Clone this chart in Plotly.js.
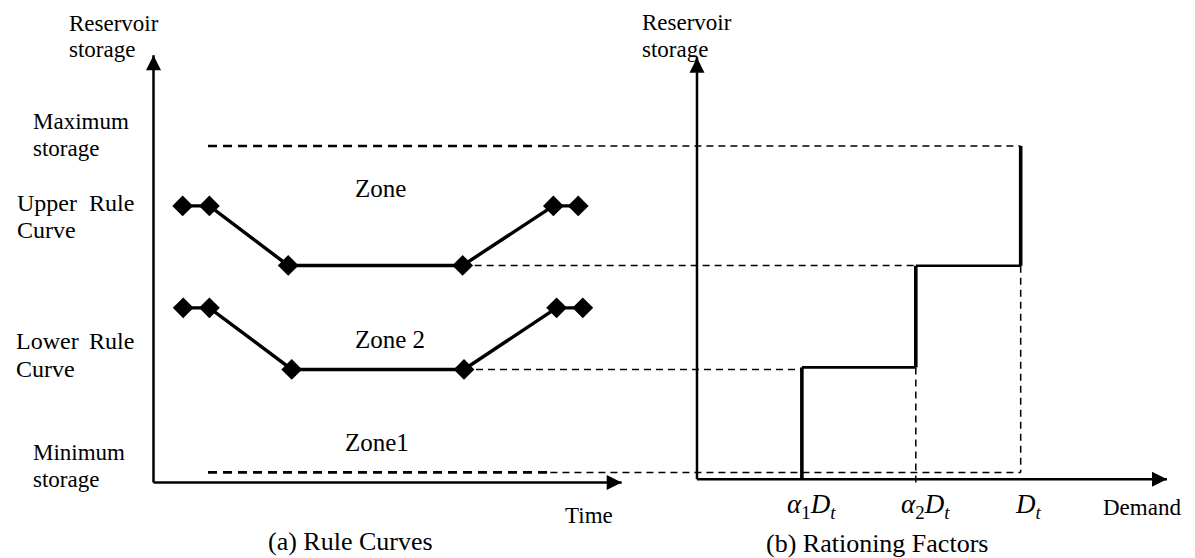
<!DOCTYPE html>
<html>
<head>
<meta charset="utf-8">
<script src="https://cdn.plot.ly/plotly-3.0.1.min.js"></script>
<style>html,body{margin:0;padding:0;background:#fff;}#chart{width:1195px;height:558px;}</style>
</head>
<body>
<div id="chart"></div>
<script>
// ---------- data ----------
// (a) Rule curves: time knots and storage levels (storage: max = 100)
const upperTime = [1.08, 2.07, 4.99, 11.45, 14.81, 15.73];
const upperRule = [82.2, 82.2, 64.5, 64.5, 82.2, 82.2];
const lowerTime = [1.10, 2.07, 5.12, 11.50, 14.93, 15.90];
const lowerRule = [51.9, 51.9, 33.6, 33.6, 51.9, 51.9];
const maxStorage = 100;
const minStorage = 3.0;
const storageLineTime = [2.02, 14.70];   // extent of max/min storage lines in panel (a)
const timeAxisEnd = 17.34;
const storageAxisEndLeft = 127.0;

// (b) Rationing factors: demand (fraction of D_t) vs storage
const rationDemand = [0.324, 0.324, 0.676, 0.676, 1.0, 1.0];
const rationStorage = [0.95, 34.2, 34.2, 64.4, 64.4, 100];
const demandAxisLevel = 0.95;
const demandAxisEnd = 1.452;
const storageAxisEndRight = 126.2;
const demandTicks = [0.324, 0.676, 1.0];
const demandTickText = ['<i>α</i><sub>1</sub><i>D</i><sub><i>t</i></sub>', '<i>α</i><sub>2</sub><i>D</i><sub><i>t</i></sub>', '<i>D</i><sub><i>t</i></sub>'];

// axis ranges (overlaid full-width axes)
const TIME_RANGE = [-5.685, 38.574];
const DEMAND_RANGE = [-2.1532, 1.5385];
const STORAGE_RANGE = [-22.44, 143.39];

// ---------- helpers ----------
function timeToDemand(t){
  const f = (t - TIME_RANGE[0]) / (TIME_RANGE[1] - TIME_RANGE[0]);
  return DEMAND_RANGE[0] + f * (DEMAND_RANGE[1] - DEMAND_RANGE[0]);
}
const W = 1195, H = 558;
const FONT = 'Liberation Serif, Times New Roman, serif';
const BLACK = '#000';

const traces = [];
function seg(xs, ys, axis, width, dash){
  traces.push({x: xs, y: ys, xaxis: axis, yaxis: 'y', mode: 'lines', hoverinfo: 'skip',
    line: {color: BLACK, width: width, dash: dash || 'solid'}});
}
function axisArrow(axis, x0, y0, x1, y1, symbol){
  seg([x0, x1], [y0, y1], axis, 2.5);
  traces.push({x: [x1], y: [y1], xaxis: axis, yaxis: 'y', mode: 'markers', hoverinfo: 'skip',
    marker: {symbol: symbol, size: 15, color: BLACK, line: {width: 0}}});
}

// axes with arrowheads
axisArrow('x', 0, 0, 0, storageAxisEndLeft, 'arrow-up');
axisArrow('x', 0, 0, timeAxisEnd, 0, 'arrow-right');
axisArrow('x2', 0, demandAxisLevel, 0, storageAxisEndRight, 'arrow-up');
axisArrow('x2', 0, demandAxisLevel, demandAxisEnd, demandAxisLevel, 'arrow-right');

// thick dashed max/min storage lines in panel (a)
seg(storageLineTime, [maxStorage, maxStorage], 'x', 2.6, '9px,6px');
seg(storageLineTime, [minStorage, minStorage], 'x', 2.6, '9px,6px');

// thin dashed guide lines across panels (drawn in demand units)
const thin = '7px,5px';
const edge = timeToDemand(storageLineTime[1]);
seg([edge, rationDemand[5]], [maxStorage, maxStorage], 'x2', 1.5, thin);
seg([edge, rationDemand[5]], [minStorage, minStorage], 'x2', 1.5, thin);
seg([timeToDemand(upperTime[3]), rationDemand[2]], [upperRule[3], upperRule[3]], 'x2', 1.5, thin);
seg([timeToDemand(lowerTime[3]), rationDemand[0]], [lowerRule[3], lowerRule[3]], 'x2', 1.5, thin);
seg([rationDemand[2], rationDemand[2]], [rationStorage[2], -0.15], 'x2', 1.5, thin);
seg([rationDemand[4], rationDemand[4]], [rationStorage[4], minStorage], 'x2', 1.5, thin);

// rule curves
traces.push({x: upperTime, y: upperRule, xaxis: 'x', yaxis: 'y', mode: 'lines+markers', hoverinfo: 'skip',
  line: {color: BLACK, width: 3.4}, marker: {symbol: 'diamond', size: 16, color: BLACK}});
traces.push({x: lowerTime, y: lowerRule, xaxis: 'x', yaxis: 'y', mode: 'lines+markers', hoverinfo: 'skip',
  line: {color: BLACK, width: 3.4}, marker: {symbol: 'diamond', size: 16, color: BLACK}});

// rationing step curve: verticals thicker than horizontals
for (let i = 0; i < rationDemand.length - 1; i++){
  const vertical = rationDemand[i] === rationDemand[i+1];
  seg([rationDemand[i], rationDemand[i+1]], [rationStorage[i], rationStorage[i+1]], 'x2', vertical ? 3.6 : 2.6);
}

// ---------- annotations ----------
const ann = [];
function label(text, px, py, anchor, size){
  ann.push({xref: 'paper', yref: 'paper', x: px / W, y: 1 - py / H, text: text, showarrow: false,
    xanchor: anchor || 'left', yanchor: 'middle', font: {family: FONT, size: size || 23, color: BLACK}});
}
label('Reservoir', 67, 23);
label('storage', 67, 50);
label('Maximum', 31, 121);
label('storage', 31, 148);
label('Upper', 15, 203, 'left', 24);
label('Rule', 136, 203, 'right', 24);
label('Curve', 15, 230, 'left', 24);
label('Lower', 14, 341, 'left', 24);
label('Rule', 136, 341, 'right', 24);
label('Curve', 14, 369, 'left', 24);
label('Minimum', 31, 452);
label('storage', 31, 479);
label('Zone', 380, 188, 'center', 25);
label('Zone 2', 390, 339, 'center', 25);
label('Zone1', 377, 442, 'center', 25);
label('Time', 563, 515);
label('(a) Rule Curves', 350, 541, 'center', 26);
label('Reservoir', 640, 22);
label('storage', 640, 49);
label('Demand', 1142, 507, 'center');
label('(b) Rationing Factors', 877, 543, 'center', 26);

// demand tick labels anchored to the demand axis
demandTicks.forEach((d, i) => {
  ann.push({xref: 'x2', yref: 'paper', x: d, y: 1 - 506 / H, text: demandTickText[i], showarrow: false,
    xanchor: 'center', yanchor: 'middle', xshift: i < 2 ? 10 : 8,
    font: {family: FONT, size: 27, color: BLACK}});
});

const hidden = {showgrid: false, zeroline: false, showticklabels: false, showline: false, ticks: '', fixedrange: true};
const layout = {
  width: W, height: H,
  margin: {l: 0, r: 0, t: 0, b: 0, pad: 0},
  paper_bgcolor: '#fff', plot_bgcolor: '#fff',
  showlegend: false,
  xaxis: Object.assign({range: TIME_RANGE, domain: [0, 1]}, hidden),
  xaxis2: Object.assign({range: DEMAND_RANGE, domain: [0, 1], overlaying: 'x'}, hidden),
  yaxis: Object.assign({range: STORAGE_RANGE, domain: [0, 1]}, hidden),
  annotations: ann
};
Plotly.newPlot('chart', traces, layout, {displayModeBar: false, staticPlot: true});
</script>
</body>
</html>
